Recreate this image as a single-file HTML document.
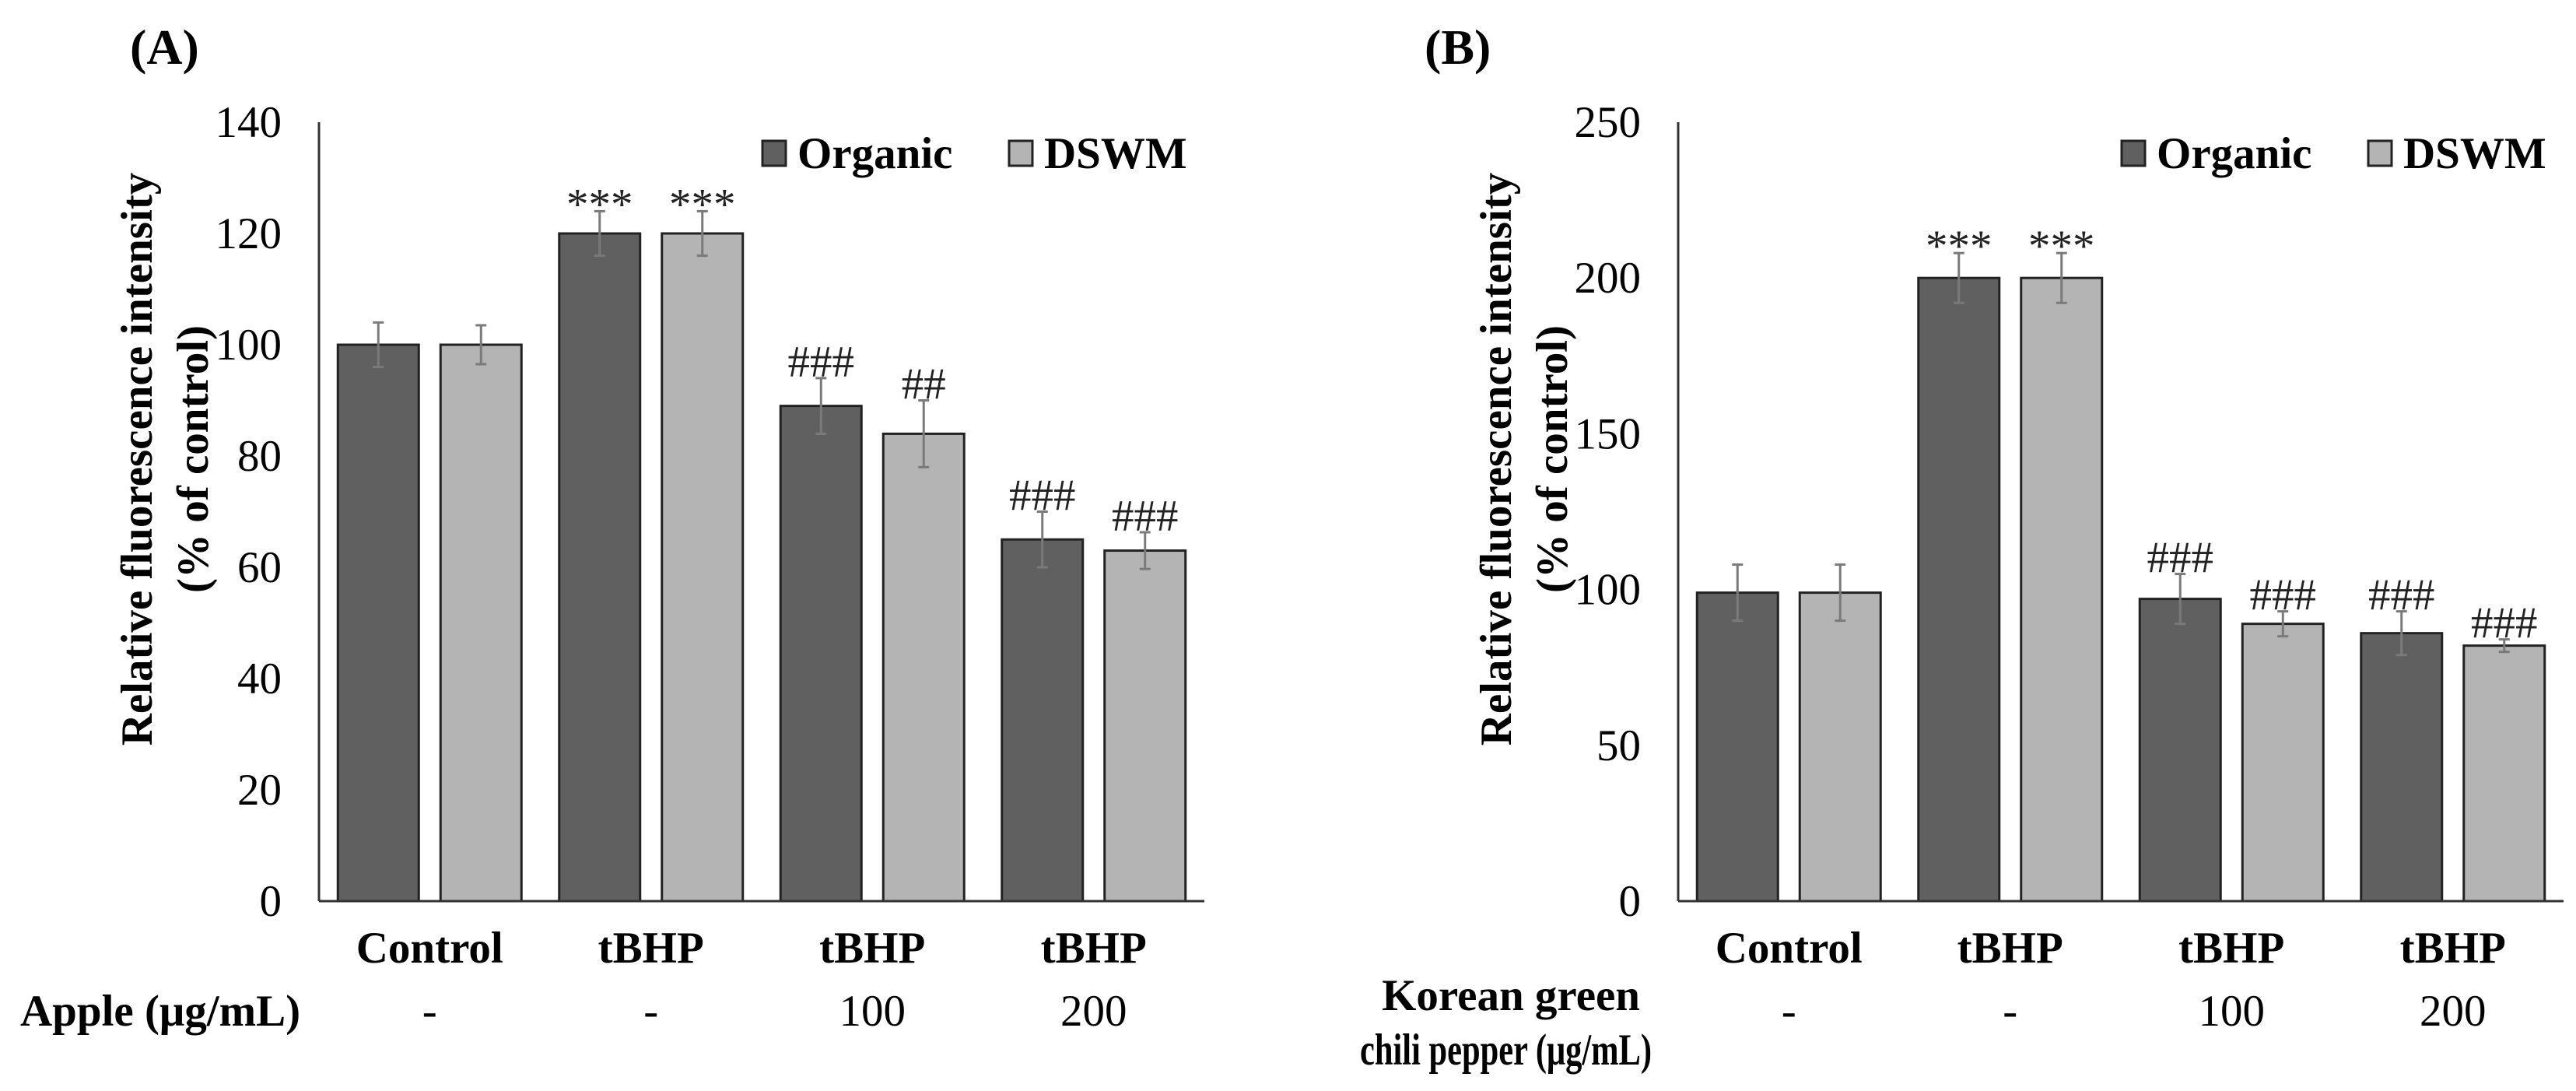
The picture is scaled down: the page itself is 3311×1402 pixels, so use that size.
<!DOCTYPE html>
<html><head><meta charset="utf-8"><style>
html,body{margin:0;padding:0;background:#fff;}
svg{display:block;font-family:"Liberation Serif",serif;}
</style></head><body>
<svg id="fig" width="3311" height="1402" viewBox="0 0 3311 1402" xmlns="http://www.w3.org/2000/svg">
<rect width="3311" height="1402" fill="#fff"/>
</svg>
<script>
const categories = ["Control","tBHP","tBHP","tBHP"];
const seriesNames = ["Organic","DSWM"];
const aOrganic = [100,120,89,65];
const aDSWM = [100,120,84,63];
const aOrganicErr = [4,4,5,5];
const aDSWMErr = [3.5,4,6,3.3];
const aOrganicSig = ["","***","###","###"];
const aDSWMSig = ["","***","##","###"];
const aTicks = [0,20,40,60,80,100,120,140];
const aDose = ["-","-","100","200"];
const bOrganic = [99,200,97,86];
const bDSWM = [99,200,89,82];
const bOrganicErr = [9,8,8,7];
const bDSWMErr = [9,8,4,2];
const bOrganicSig = ["","***","###","###"];
const bDSWMSig = ["","***","###","###"];
const bTicks = [0,50,100,150,200,250];
const bDose = ["-","-","100","200"];

const NS="http://www.w3.org/2000/svg";
const svg=document.getElementById('fig');
function mk(tag,attrs,parent){const e=document.createElementNS(NS,tag);for(const k in attrs)e.setAttribute(k,attrs[k]);(parent||svg).appendChild(e);return e;}
function txt(s,attrs,parent){const e=mk('text',attrs,parent);e.textContent=s;return e;}

function panel(p){
  const g=mk('g',{});
  
  
  const x0=p.ax, x1=p.ax+1138, y0=1158, yTop=157;
  const y=v=>y0-(v/p.max)*(y0-yTop);
  const pitch=(x1-x0)/categories.length;
  const cx=i=>x0+pitch*(i+0.5);
  const pl=txt(p.label,{x:p.lx,y:82,'font-size':64,'font-weight':'bold'},g);
  
  
  p.ticks.forEach(t=>{
    const e=txt(String(t),{x:x0-48,y:y(t)+19,'font-size':57,'text-anchor':'end'},g);
    
    
  });
  const tcy=590;
  const t1=txt('Relative fluorescence intensity',{x:0,y:0,'font-size':57,'font-weight':'bold','text-anchor':'middle',transform:`translate(${x0-215},${tcy}) rotate(-90)`},g);
  
  
  const t2=txt('(% of control)',{x:0,y:0,'font-size':57,'font-weight':'bold','text-anchor':'middle',transform:`translate(${x0-143},${tcy}) rotate(-90)`},g);
  
  
  const sets=[[p.org,p.orgErr,p.orgSig,'#606060',-118],[p.dswm,p.dswmErr,p.dswmSig,'#b4b4b4',14]];
  sets.forEach((s,si)=>{
    s[0].forEach((v,i)=>{
      const bx=cx(i)+s[4];
      const r=mk('rect',{x:bx,y:y(v),width:104,height:y0-y(v),fill:s[3],stroke:'#222','stroke-width':3},g);
      
      
      const ex=bx+52, et=y(v+s[1][i]), eb=y(v-s[1][i]);
      const eg=mk('g',{stroke:'#7a7a7a','stroke-width':3},g);
      
      
      mk('line',{x1:ex,x2:ex,y1:et,y2:eb},eg);
      mk('line',{x1:ex-7,x2:ex+7,y1:et,y2:et},eg);
      mk('line',{x1:ex-7,x2:ex+7,y1:eb,y2:eb},eg);
      const sig=s[2][i];
      if(sig){
        const by = sig.indexOf('*')>=0 ? et+10 : et-2;
        const st=txt(sig,{x:ex,y:by,'font-size':57,'text-anchor':'middle',fill:'#222'},g);
        
        
      }
    });
  });
  const ya=mk('line',{x1:x0,x2:x0,y1:yTop,y2:y0,stroke:'#333','stroke-width':3},g);
  
  
  const xa=mk('line',{x1:x0,x2:x1,y1:y0,y2:y0,stroke:'#333','stroke-width':3},g);
  
  
  categories.forEach((c,i)=>{
    const e=txt(c,{x:cx(i),y:1237,'font-size':57,'font-weight':'bold','text-anchor':'middle'},g);
    
    
    const d=txt(p.dose[i],{x:cx(i),y:1318,'font-size':57,'text-anchor':'middle'},g);
    
    
  });
  const lx=x0+570;
  const items=[['Organic','#606060',0],['DSWM','#b4b4b4',317]];
  items.forEach(it=>{
    const lg=mk('g',{},g);
    
    
    mk('rect',{x:lx+it[2],y:181,width:30,height:32,fill:it[1],stroke:'#222','stroke-width':3},lg);
    txt(it[0],{x:lx+it[2]+45,y:216,'font-size':57,'font-weight':'bold'},lg);
  });
  return g;
}
panel({id:'a',label:'(A)',lx:167,ax:410,max:140,ticks:aTicks,org:aOrganic,dswm:aDSWM,orgErr:aOrganicErr,dswmErr:aDSWMErr,orgSig:aOrganicSig,dswmSig:aDSWMSig,dose:aDose});
panel({id:'b',label:'(B)',lx:1831,ax:2157,max:250,ticks:bTicks,org:bOrganic,dswm:bDSWM,orgErr:bOrganicErr,dswmErr:bDSWMErr,orgSig:bOrganicSig,dswmSig:bDSWMSig,dose:bDose});
const ap=txt('Apple (μg/mL)',{x:26,y:1318,'font-size':57,'font-weight':'bold'});


const k1=txt('Korean green',{x:2108,y:1298,'font-size':57,'font-weight':'bold','text-anchor':'end'});


const k2=txt('chili pepper (μg/mL)',{x:1748,y:1368,'font-size':57,'font-weight':'bold',textLength:375,lengthAdjust:'spacingAndGlyphs'});


</script>
</body></html>
